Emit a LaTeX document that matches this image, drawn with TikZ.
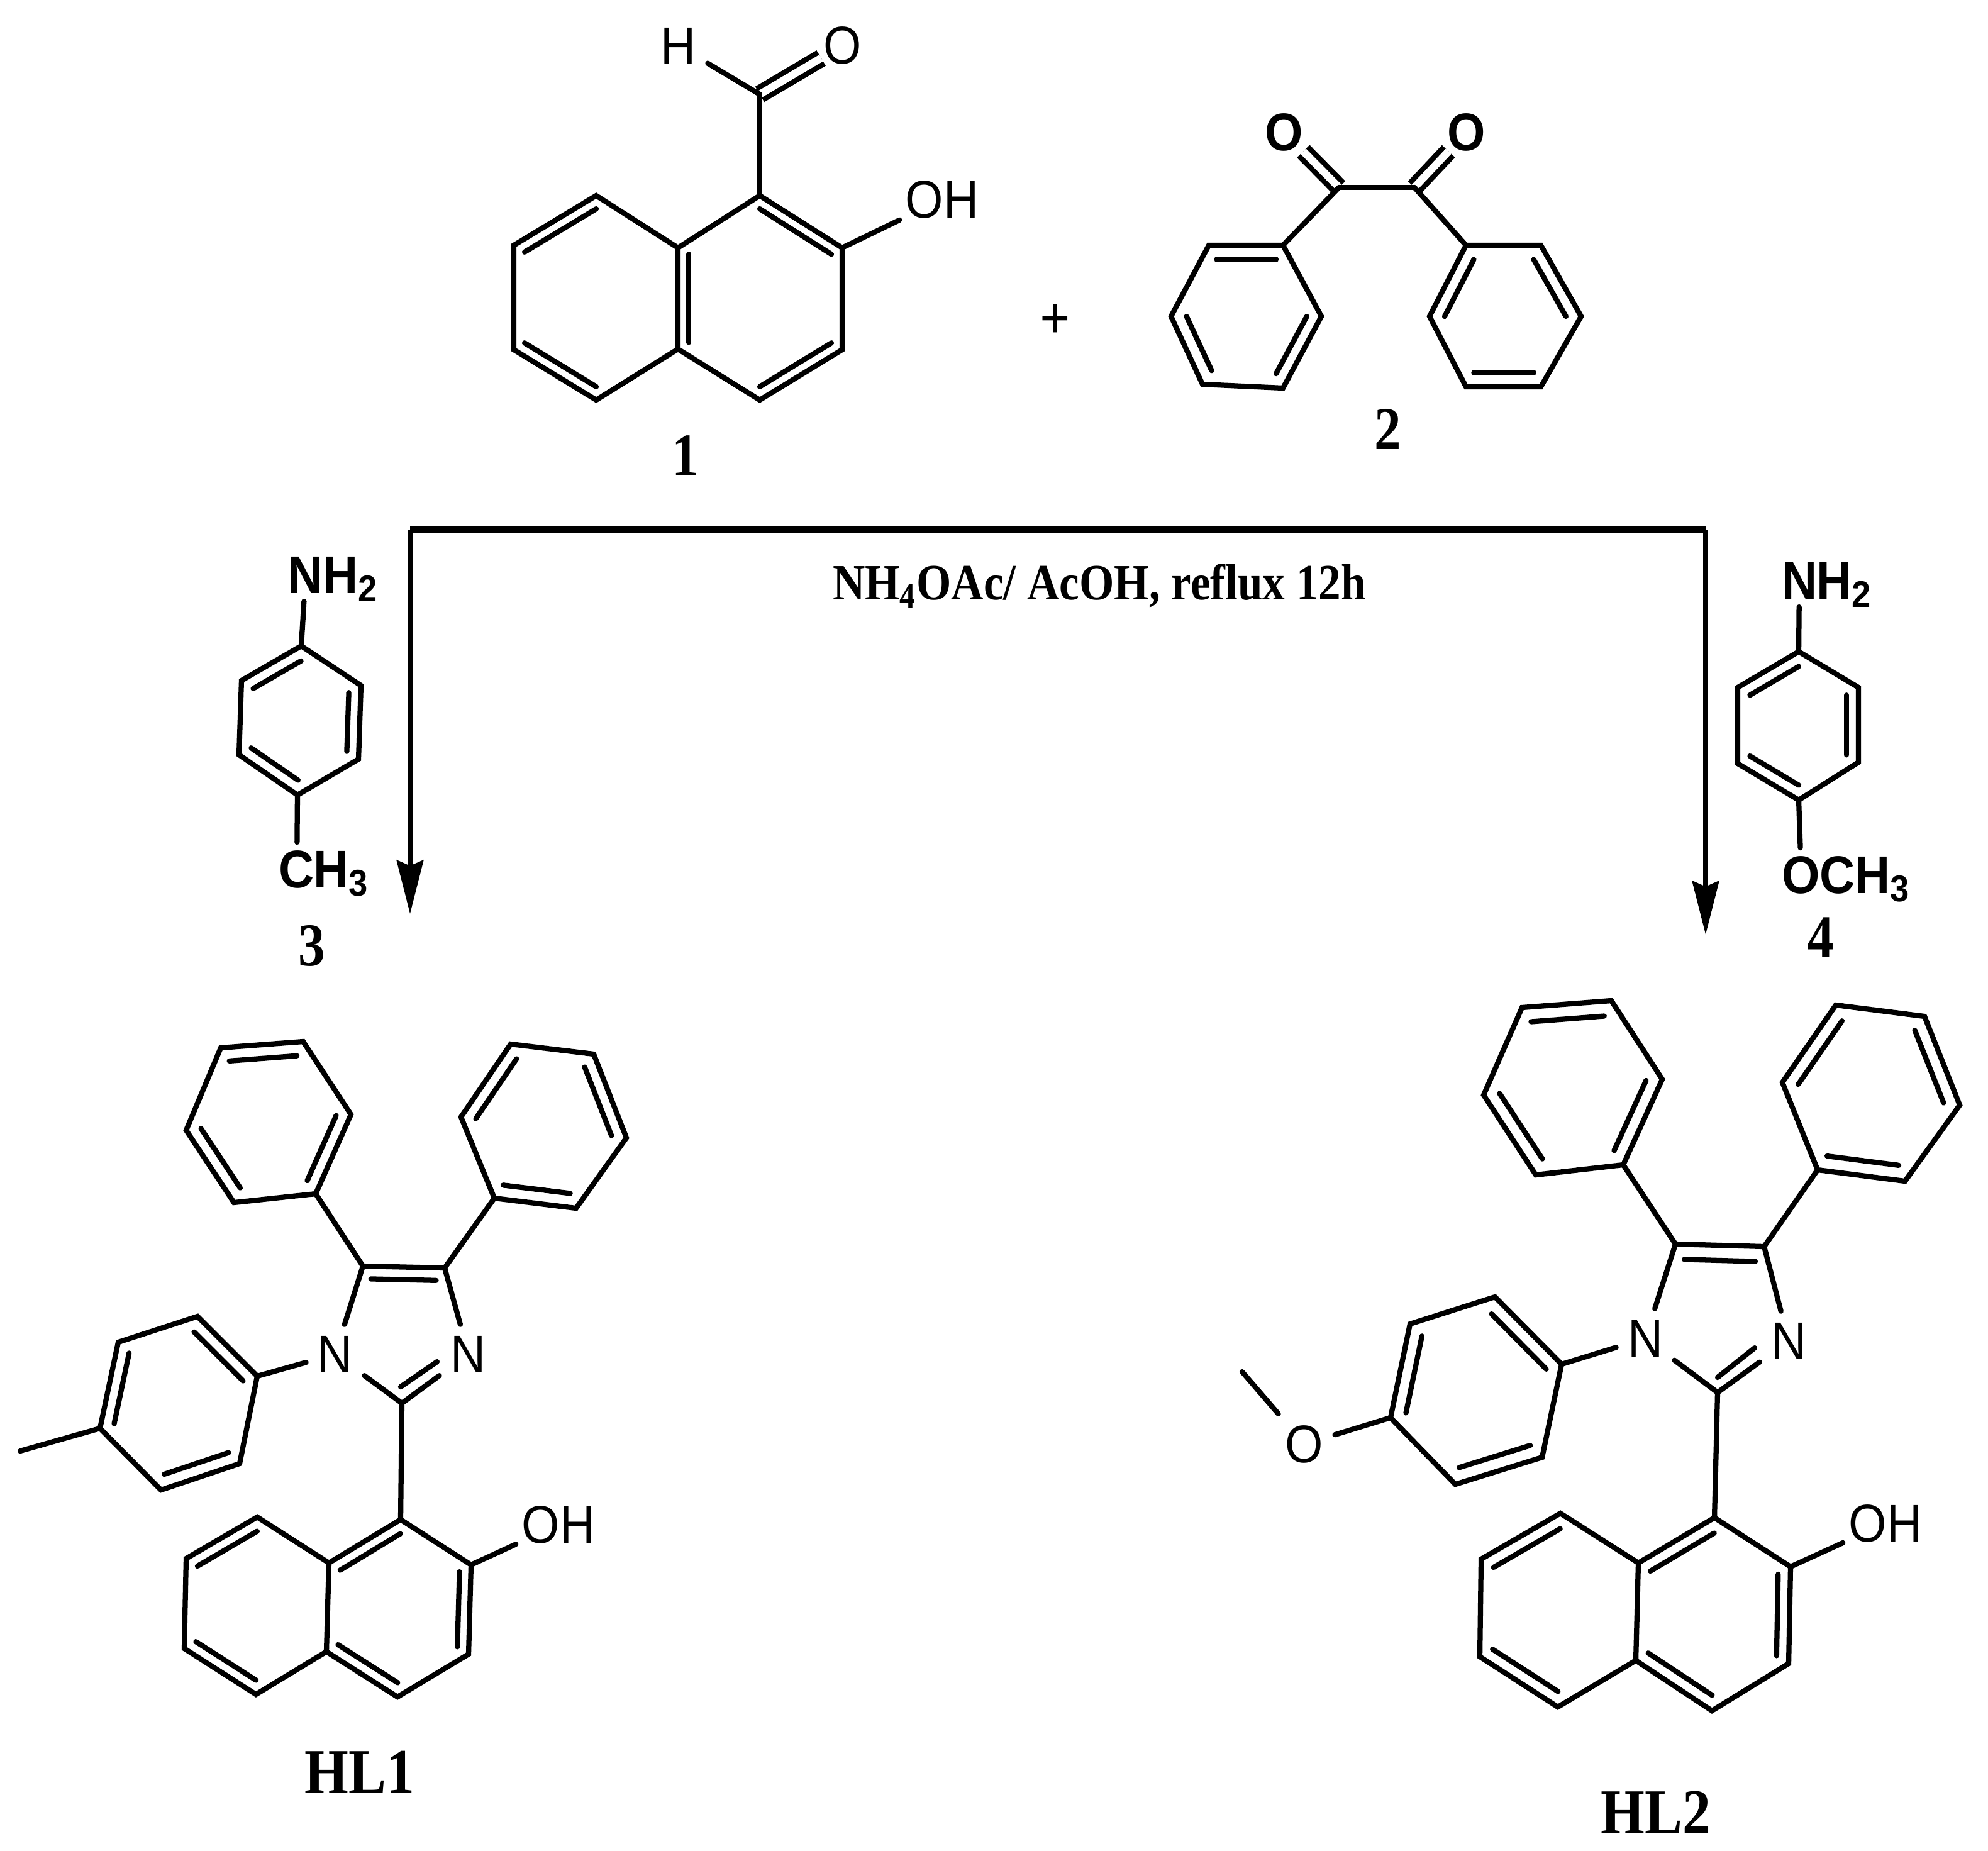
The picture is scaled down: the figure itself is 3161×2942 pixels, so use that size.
\documentclass[tikz,border=0pt]{standalone}
\usepackage{fontspec}
\newfontfamily\atomfont[FakeStretch=.92]{Liberation Sans}
\newfontfamily\tagfont[FakeStretch=.88]{Liberation Serif}
\usetikzlibrary{arrows.meta,calc,positioning}
\tikzset{>={Stealth[length=24.2pt,width=12pt,inset=2.5pt]}}
\tikzstyle{bond}=[line width=2.35pt,line cap=round]
\tikzstyle{dblbond}=[line width=2.35pt,double,double distance=3.4pt]
\tikzstyle{bar}=[line width=2.85pt]
\tikzstyle{flow}=[line width=2.3pt]
\tikzstyle{atom}=[font={\atomfont\fontsize{24}{28}\selectfont},inner sep=5pt]
\tikzstyle{hydroxy}=[atom,inner sep=2.5pt]
\tikzstyle{oxo}=[atom,inner sep=1pt]
\tikzstyle{boldoxo}=[font={\atomfont\bfseries\fontsize{24}{28}\selectfont},inner sep=0pt]
\tikzstyle{boldatom}=[font={\atomfont\bfseries\fontsize{24}{28}\selectfont},inner sep=3.5pt,anchor=base]
\tikzstyle{subatom}=[font={\atomfont\bfseries\fontsize{24}{28}\selectfont},inner sep=0pt,anchor=base west]
\tikzstyle{tag}=[font={\tagfont\bfseries\fontsize{27.5}{30}\selectfont},inner sep=0pt,anchor=base]
\tikzstyle{hltag}=[font={\tagfont\bfseries\fontsize{29}{32}\selectfont},inner sep=0pt,anchor=base]
\tikzstyle{cond}=[font={\tagfont\bfseries\fontsize{23}{26}\selectfont},inner sep=0pt,anchor=base]
\newcommand{\innerbond}[4][.18]{\draw[bond] ($(#2)!#1!(#4)$) -- ($(#3)!#1!(#4)$);}
\begin{document}
\begin{tikzpicture}[x=0.01cm,y=-0.01cm]
	\useasboundingbox (0,0) rectangle (3161,2942);

	\coordinate (nap1) at (1208,311);
	\coordinate (nap2) at (1339,394);
	\coordinate (nap3) at (1339,556);
	\coordinate (nap4) at (1208,636);
	\coordinate (nap5) at (1078,555);
	\coordinate (nap6) at (1078,394);
	\coordinate (nap7) at (948,311);
	\coordinate (nap8) at (817,390);
	\coordinate (nap9) at (817,556);
	\coordinate (nap10) at (948,636);
	\coordinate (napL) at (948,473);
	\coordinate (napR) at (1208,473);
	\coordinate (cho) at (1208,150);
	\node[atom] (choH) at (1079,73) {H};
	\node[oxo] (choO) at (1340,72) {O};
	\node[hydroxy] (napOH) at (1498,317) {OH};

	\draw[dblbond] (cho) -- (choO);
	\draw[bond] (cho) -- (choH);
	\draw[bond] (cho) -- (nap1);
	\draw[bond] (nap2) -- (napOH);
	\draw[bond] (nap1) -- (nap2) -- (nap3) -- (nap4) -- (nap5) -- (nap6) -- cycle;
	\draw[bond] (nap6) -- (nap7) -- (nap8) -- (nap9) -- (nap10) -- (nap5);
	\innerbond[.13]{nap1}{nap2}{napR}
	\innerbond[.13]{nap3}{nap4}{napR}
	\innerbond[.13]{nap5}{nap6}{napR}
	\innerbond[.13]{nap7}{nap8}{napL}
	\innerbond[.13]{nap9}{nap10}{napL}
	\node[tag] (tag1) at (1090,756) {1};

	\node[tag] (plus) at (1678,538) {+};

	\coordinate (ben1) at (2129,298);
	\coordinate (ben2) at (2249,298);
	\node[boldoxo] (benO1) at (2042,210) {O};
	\node[boldoxo] (benO2) at (2332,210) {O};
	\coordinate (benL1) at (2040,390);
	\coordinate (benL2) at (1922,390);
	\coordinate (benL3) at (1862,503);
	\coordinate (benL4) at (1912,611);
	\coordinate (benL5) at (2040,617);
	\coordinate (benL6) at (2101,503);
	\coordinate (benLc) at (1985,503);
	\coordinate (benR1) at (2331,390);
	\coordinate (benR2) at (2450,390);
	\coordinate (benR3) at (2514,503);
	\coordinate (benR4) at (2450,615);
	\coordinate (benR5) at (2331,615);
	\coordinate (benR6) at (2273,503);
	\coordinate (benRc) at (2393,503);

	\draw[dblbond] (ben1) -- (benO1);
	\draw[dblbond] (ben2) -- (benO2);
	\draw[bond] (ben1) -- (ben2);
	\draw[bond] (ben1) -- (benL1);
	\draw[bond] (ben2) -- (benR1);
	\draw[bond] (benL1) -- (benL2) -- (benL3) -- (benL4) -- (benL5) -- (benL6) -- cycle;
	\draw[bond] (benR1) -- (benR2) -- (benR3) -- (benR4) -- (benR5) -- (benR6) -- cycle;
	\innerbond[.2]{benL1}{benL2}{benLc}
	\innerbond[.2]{benL3}{benL4}{benLc}
	\innerbond[.2]{benL5}{benL6}{benLc}
	\innerbond[.2]{benR1}{benR6}{benRc}
	\innerbond[.2]{benR2}{benR3}{benRc}
	\innerbond[.2]{benR4}{benR5}{benRc}
	\node[tag] (tag2) at (2207,714) {2};

	\coordinate (barL) at (652,842);
	\coordinate (barR) at (2712,842);
	\coordinate (tipL) at (652,1453);
	\coordinate (tipR) at (2712,1486);
	\draw[bar] (barL) -- (barR);
	\draw[flow,->] (barL) -- (tipL);
	\draw[flow,->] (barR) -- (tipR);
	\node[cond] (cond) at (1748,953) {NH\textsubscript{4}OAc/ AcOH, reflux 12h};

	\node[boldatom] (tolN) at (486,943) {N};
	\node[subatom] (tolH) at (513,943) {H\textsubscript{2}};
	\coordinate (tol1) at (479,1027);
	\coordinate (tol2) at (574,1090);
	\coordinate (tol3) at (570,1207);
	\coordinate (tol4) at (473,1264);
	\coordinate (tol5) at (380,1200);
	\coordinate (tol6) at (384,1082);
	\coordinate (tolc) at (477,1146);
	\node[boldatom] (tolC) at (472,1411) {C};
	\node[subatom] (tolM) at (498,1411) {H\textsubscript{3}};

	\draw[bond] (tolN) -- (tol1);
	\draw[bond] (tol4) -- (tolC);
	\draw[bond] (tol1) -- (tol2) -- (tol3) -- (tol4) -- (tol5) -- (tol6) -- cycle;
	\innerbond[.2]{tol1}{tol6}{tolc}
	\innerbond[.2]{tol2}{tol3}{tolc}
	\innerbond[.2]{tol4}{tol5}{tolc}
	\node[tag] (tag3) at (496,1535) {3};

	\node[boldatom] (aniN) at (2861,952) {N};
	\node[subatom] (aniH) at (2888,952) {H\textsubscript{2}};
	\coordinate (ani1) at (2860,1036);
	\coordinate (ani2) at (2955,1093);
	\coordinate (ani3) at (2955,1212);
	\coordinate (ani4) at (2860,1272);
	\coordinate (ani5) at (2763,1214);
	\coordinate (ani6) at (2763,1093);
	\coordinate (anic) at (2860,1154);
	\node[boldatom] (aniO) at (2864,1420) {O};
	\node[subatom] (aniM) at (2893,1420) {CH\textsubscript{3}};

	\draw[bond] (aniN) -- (ani1);
	\draw[bond] (ani4) -- (aniO);
	\draw[bond] (ani1) -- (ani2) -- (ani3) -- (ani4) -- (ani5) -- (ani6) -- cycle;
	\innerbond[.2]{ani1}{ani6}{anic}
	\innerbond[.2]{ani2}{ani3}{anic}
	\innerbond[.2]{ani4}{ani5}{anic}
	\node[tag] (tag4) at (2895,1522) {4};

	\coordinate (pa1) at (351,1666);
	\coordinate (pa2) at (482,1656);
	\coordinate (pa3) at (558,1772);
	\coordinate (pa4) at (502,1898);
	\coordinate (pa5) at (372,1912);
	\coordinate (pa6) at (296,1797);
	\coordinate (pac) at (427,1782);
	\coordinate (pb1) at (812,1660);
	\coordinate (pb2) at (944,1676);
	\coordinate (pb3) at (996,1809);
	\coordinate (pb4) at (916,1921);
	\coordinate (pb5) at (786,1905);
	\coordinate (pb6) at (733,1776);
	\coordinate (pbc) at (864,1790);
	\coordinate (pim5) at (577,2013);
	\coordinate (pim4) at (707,2016);
	\coordinate (pim2) at (639,2231);
	\coordinate (pimc) at (640,2115);
	\coordinate (pimi1) at (637,2205);
	\coordinate (pimi2) at (695,2165);
	\node[atom] (pimN1) at (533,2153) {N};
	\node[atom] (pimN3) at (745,2153) {N};
	\coordinate (pt1) at (409,2188);
	\coordinate (pt2) at (314,2093);
	\coordinate (pt3) at (188,2134);
	\coordinate (pt4) at (159,2271);
	\coordinate (pt5) at (256,2369);
	\coordinate (pt6) at (381,2327);
	\coordinate (ptc) at (284,2230);
	\coordinate (ptm) at (32,2307);
	\coordinate (pn1) at (637,2416);
	\coordinate (pn2) at (749,2488);
	\coordinate (pn3) at (745,2630);
	\coordinate (pn4) at (632,2698);
	\coordinate (pn5) at (519,2626);
	\coordinate (pn6) at (523,2485);
	\coordinate (pn7) at (409,2412);
	\coordinate (pn8) at (296,2478);
	\coordinate (pn9) at (293,2621);
	\coordinate (pn10) at (407,2694);
	\coordinate (pnL) at (408,2553);
	\coordinate (pnR) at (634,2557);
	\node[hydroxy] (pOH) at (888,2424) {OH};

	\draw[bond] (pa1) -- (pa2) -- (pa3) -- (pa4) -- (pa5) -- (pa6) -- cycle;
	\draw[bond] (pb1) -- (pb2) -- (pb3) -- (pb4) -- (pb5) -- (pb6) -- cycle;
	\innerbond{pa1}{pa2}{pac}
	\innerbond{pa3}{pa4}{pac}
	\innerbond{pa5}{pa6}{pac}
	\innerbond{pb1}{pb6}{pbc}
	\innerbond{pb2}{pb3}{pbc}
	\innerbond{pb4}{pb5}{pbc}
	\draw[bond] (pa4) -- (pim5);
	\draw[bond] (pb5) -- (pim4);
	\draw[bond] (pim5) -- (pim4);
	\innerbond[.2]{pim5}{pim4}{pimc}
	\draw[bond] (pim5) -- (pimN1);
	\draw[bond] (pim4) -- (pimN3);
	\draw[bond] (pimN1) -- (pim2);
	\draw[bond] (pim2) -- (pimN3);
	\draw[bond] (pimi1) -- (pimi2);
	\draw[bond] (pimN1) -- (pt1);
	\draw[bond] (pt1) -- (pt2) -- (pt3) -- (pt4) -- (pt5) -- (pt6) -- cycle;
	\innerbond{pt1}{pt2}{ptc}
	\innerbond{pt3}{pt4}{ptc}
	\innerbond{pt5}{pt6}{ptc}
	\draw[bond] (pt4) -- (ptm);
	\draw[bond] (pim2) -- (pn1);
	\draw[bond] (pn2) -- (pOH);
	\draw[bond] (pn1) -- (pn2) -- (pn3) -- (pn4) -- (pn5) -- (pn6) -- cycle;
	\draw[bond] (pn6) -- (pn7) -- (pn8) -- (pn9) -- (pn10) -- (pn5);
	\innerbond[.16]{pn1}{pn6}{pnR}
	\innerbond[.16]{pn2}{pn3}{pnR}
	\innerbond[.16]{pn4}{pn5}{pnR}
	\innerbond[.16]{pn7}{pn8}{pnL}
	\innerbond[.16]{pn9}{pn10}{pnL}
	\node[hltag] (hl1) at (572,2851) {HL1};

	\coordinate (qa1) at (2420,1602);
	\coordinate (qa2) at (2562,1591);
	\coordinate (qa3) at (2643,1716);
	\coordinate (qa4) at (2581,1852);
	\coordinate (qa5) at (2442,1868);
	\coordinate (qa6) at (2359,1741);
	\coordinate (qac) at (2500,1727);
	\coordinate (qb1) at (2919,1598);
	\coordinate (qb2) at (3060,1616);
	\coordinate (qb3) at (3116,1757);
	\coordinate (qb4) at (3029,1878);
	\coordinate (qb5) at (2890,1860);
	\coordinate (qb6) at (2834,1721);
	\coordinate (qbc) at (2974,1738);
	\coordinate (qim5) at (2664,1978);
	\coordinate (qim4) at (2805,1982);
	\coordinate (qim2) at (2731,2214);
	\coordinate (qimc) at (2735,2100);
	\coordinate (qimi1) at (2731,2190);
	\coordinate (qimi2) at (2790,2143);
	\node[atom] (qimN1) at (2616,2128) {N};
	\node[atom] (qimN3) at (2844,2132) {N};
	\coordinate (qt1) at (2483,2169);
	\coordinate (qt2) at (2377,2062);
	\coordinate (qt3) at (2242,2105);
	\coordinate (qt4) at (2211,2254);
	\coordinate (qt5) at (2314,2360);
	\coordinate (qt6) at (2452,2317);
	\coordinate (qtc) at (2347,2212);
	\node[atom] (qO) at (2074,2296) {O};
	\coordinate (qme) at (1975,2181);
	\coordinate (qn1) at (2726,2413);
	\coordinate (qn2) at (2847,2491);
	\coordinate (qn3) at (2844,2645);
	\coordinate (qn4) at (2722,2720);
	\coordinate (qn5) at (2601,2640);
	\coordinate (qn6) at (2605,2485);
	\coordinate (qn7) at (2481,2406);
	\coordinate (qn8) at (2355,2479);
	\coordinate (qn9) at (2353,2634);
	\coordinate (qn10) at (2477,2714);
	\coordinate (qnL) at (2479,2560);
	\coordinate (qnR) at (2724,2566);
	\node[hydroxy] (qOH) at (2998,2422) {OH};

	\draw[bond] (qa1) -- (qa2) -- (qa3) -- (qa4) -- (qa5) -- (qa6) -- cycle;
	\draw[bond] (qb1) -- (qb2) -- (qb3) -- (qb4) -- (qb5) -- (qb6) -- cycle;
	\innerbond{qa1}{qa2}{qac}
	\innerbond{qa3}{qa4}{qac}
	\innerbond{qa5}{qa6}{qac}
	\innerbond{qb1}{qb6}{qbc}
	\innerbond{qb2}{qb3}{qbc}
	\innerbond{qb4}{qb5}{qbc}
	\draw[bond] (qa4) -- (qim5);
	\draw[bond] (qb5) -- (qim4);
	\draw[bond] (qim5) -- (qim4);
	\innerbond[.2]{qim5}{qim4}{qimc}
	\draw[bond] (qim5) -- (qimN1);
	\draw[bond] (qim4) -- (qimN3);
	\draw[bond] (qimN1) -- (qim2);
	\draw[bond] (qim2) -- (qimN3);
	\draw[bond] (qimi1) -- (qimi2);
	\draw[bond] (qimN1) -- (qt1);
	\draw[bond] (qt1) -- (qt2) -- (qt3) -- (qt4) -- (qt5) -- (qt6) -- cycle;
	\innerbond{qt1}{qt2}{qtc}
	\innerbond{qt3}{qt4}{qtc}
	\innerbond{qt5}{qt6}{qtc}
	\draw[bond] (qt4) -- (qO);
	\draw[bond] (qO) -- (qme);
	\draw[bond] (qim2) -- (qn1);
	\draw[bond] (qn2) -- (qOH);
	\draw[bond] (qn1) -- (qn2) -- (qn3) -- (qn4) -- (qn5) -- (qn6) -- cycle;
	\draw[bond] (qn6) -- (qn7) -- (qn8) -- (qn9) -- (qn10) -- (qn5);
	\innerbond[.16]{qn1}{qn6}{qnR}
	\innerbond[.16]{qn2}{qn3}{qnR}
	\innerbond[.16]{qn4}{qn5}{qnR}
	\innerbond[.16]{qn7}{qn8}{qnL}
	\innerbond[.16]{qn9}{qn10}{qnL}
	\node[hltag] (hl2) at (2633,2915) {HL2};
\end{tikzpicture}
\end{document}
